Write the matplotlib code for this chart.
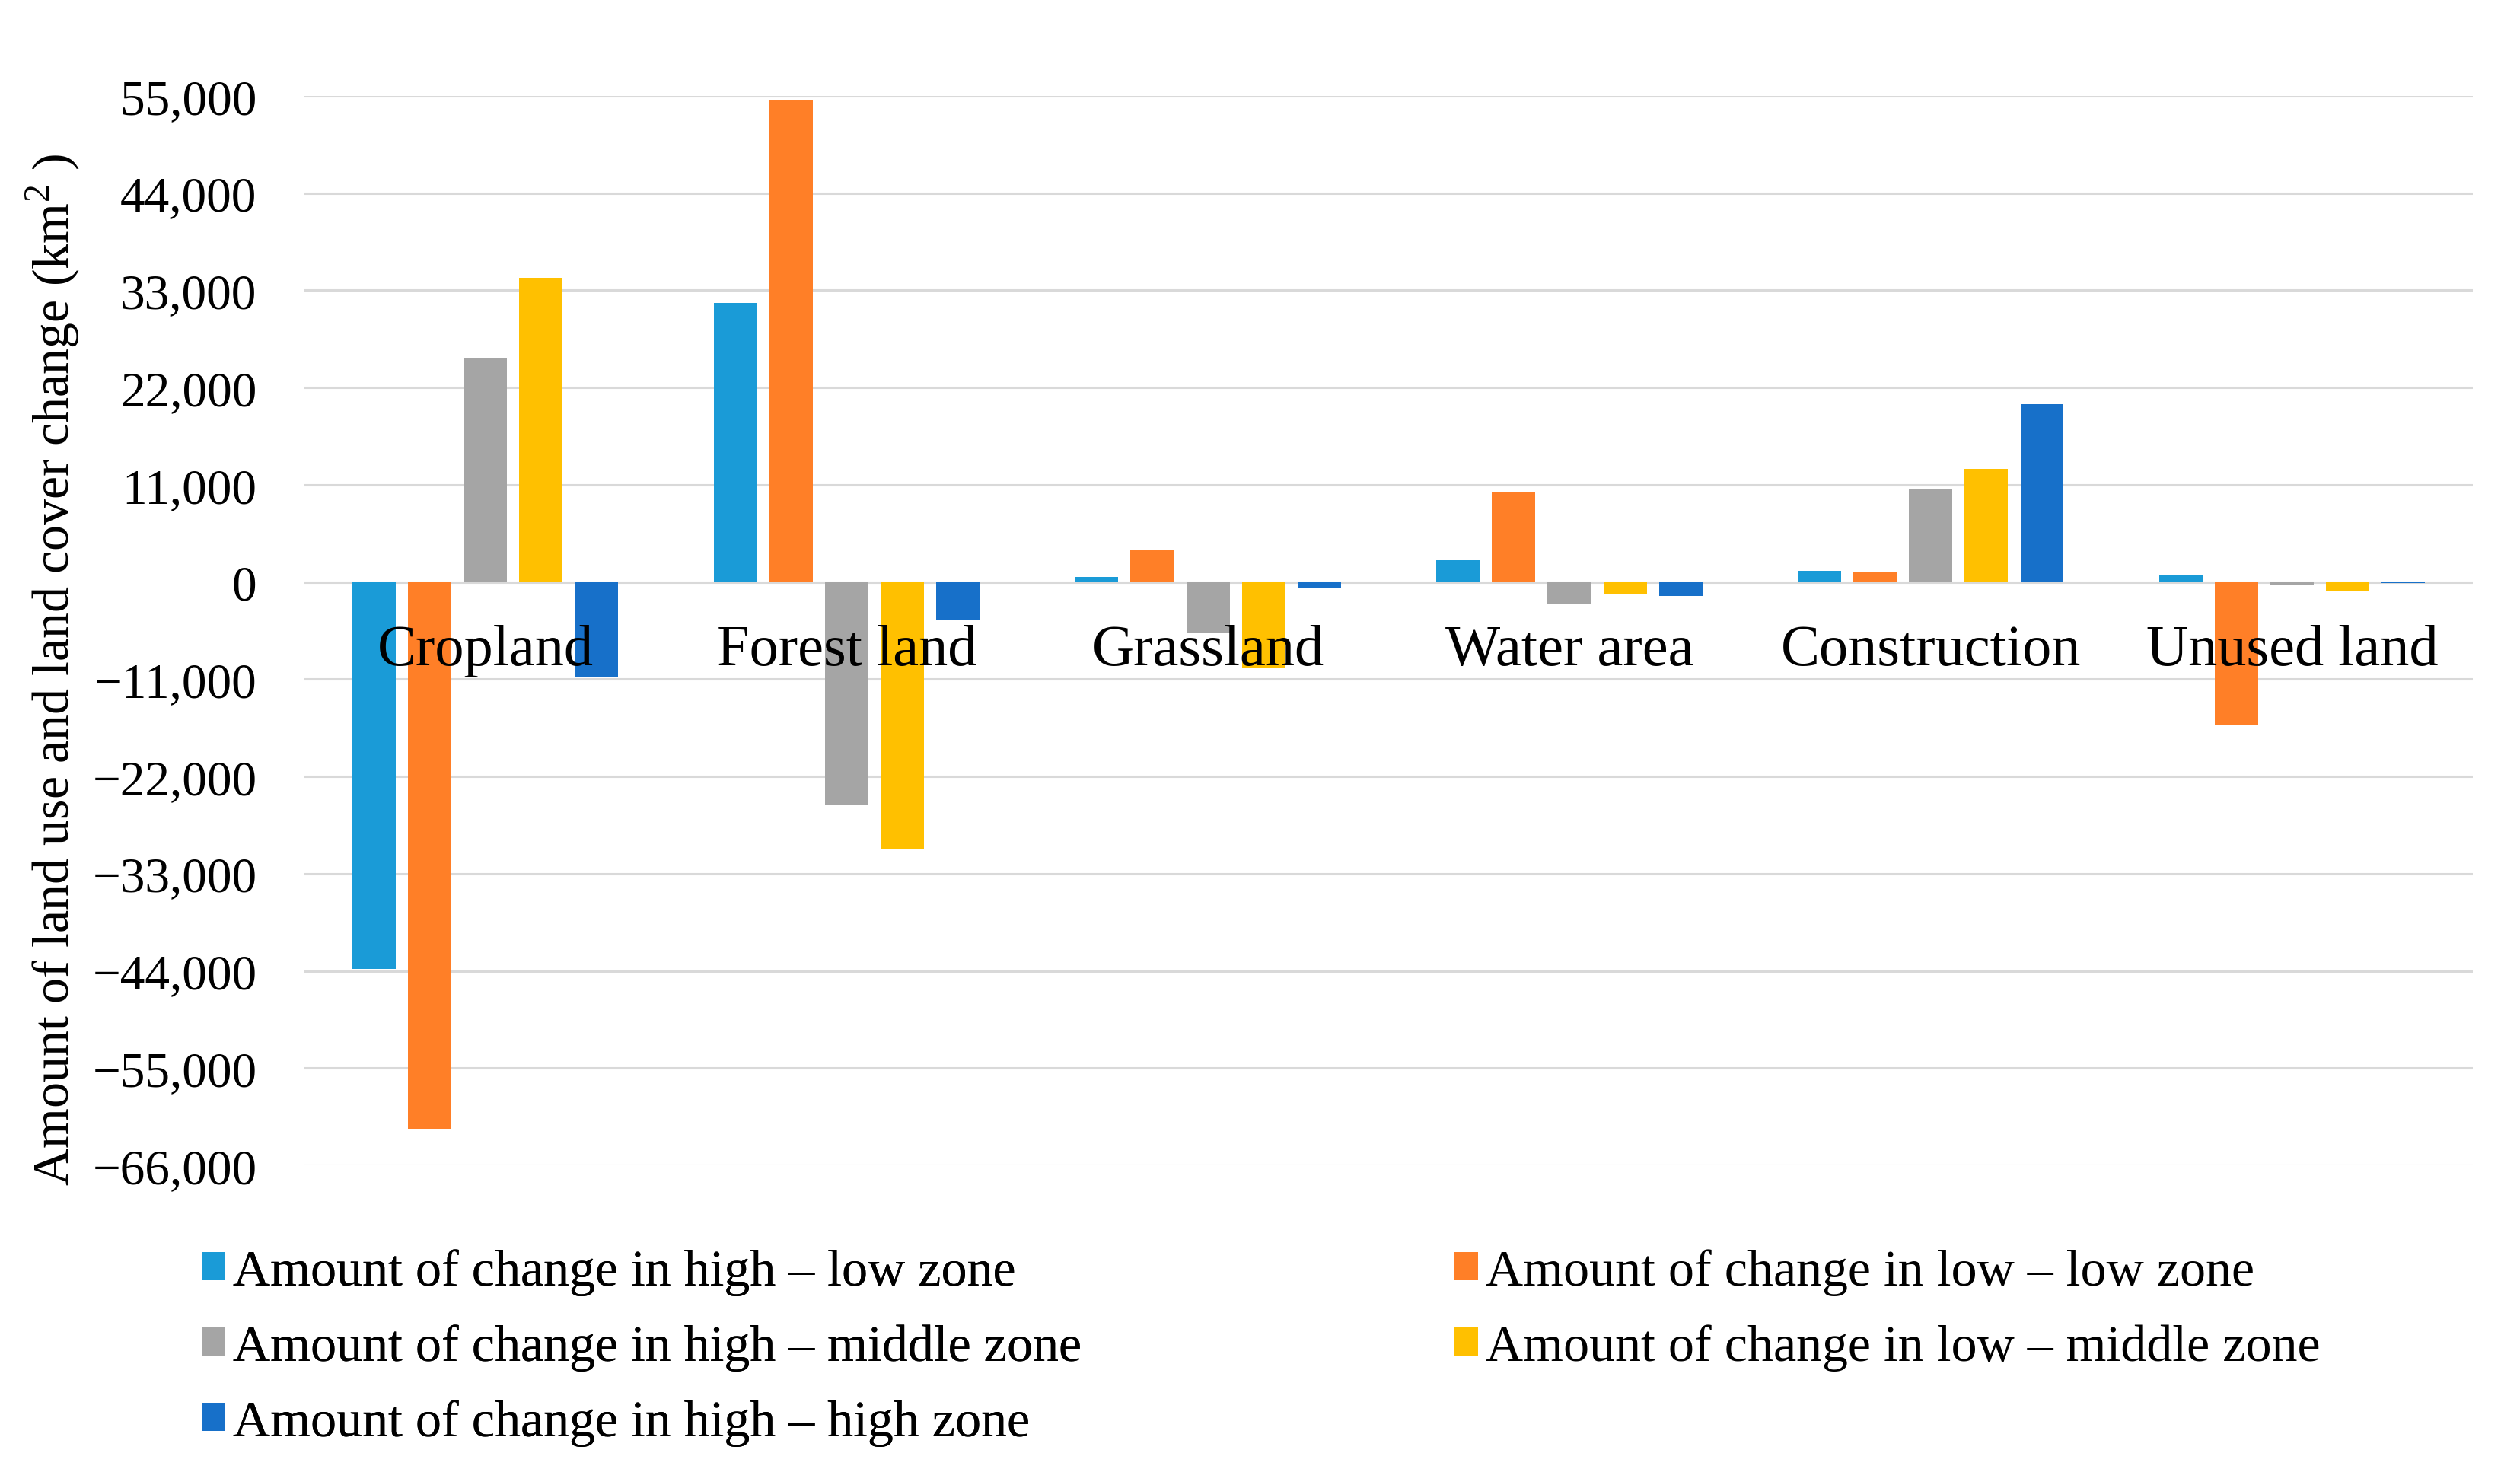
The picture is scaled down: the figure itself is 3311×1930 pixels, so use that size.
import numpy as np
import matplotlib
matplotlib.use('Agg')
import matplotlib.pyplot as plt
from matplotlib.ticker import FuncFormatter, MultipleLocator

plt.rcParams['font.family'] = ['Liberation Serif', 'DejaVu Serif']
plt.rcParams['mathtext.fontset'] = 'custom'
plt.rcParams['mathtext.rm'] = 'Liberation Serif'

categories = ['Cropland', 'Forest land', 'Grassland', 'Water area', 'Construction', 'Unused land']

# change amounts (km2) per zone
high_low = [-43800, 31600, 550, 2500, 1300, 800]
low_low = [-61900, 54500, 3600, 10100, 1150, -16100]
high_middle = [25400, -25300, -5800, -2400, 10600, -350]
low_middle = [34400, -30300, -9700, -1400, 12800, -1000]
high_high = [-10800, -4300, -600, -1600, 20100, -150]

series_names = ['Amount of change in high – low zone',
                'Amount of change in low – low zone',
                'Amount of change in high – middle zone',
                'Amount of change in low – middle zone',
                'Amount of change in high – high zone']
series_colors = ['#1A9BD7', '#FF7F27', '#A5A5A5', '#FFC000', '#1770C9']

fig = plt.figure(figsize=(33.11, 19.31), dpi=100)
ax = fig.add_axes([400/3311, 1-1532/1931, 2849/3311, 1405/1931])

x = np.arange(len(categories))
bw = 0.12
pitch = 0.154
handles = []
for i, vals in enumerate([high_low, low_low, high_middle, low_middle, high_high]):
    b = ax.bar(x + (i-2)*pitch, vals, width=bw, color=series_colors[i], label=series_names[i], zorder=2)
    handles.append(b)

ax.set_xlim(-0.5, len(categories)-0.5)
ax.set_ylim(-66000, 55000)
ax.yaxis.set_major_locator(MultipleLocator(11000))

def fmt(v, pos):
    s = '{:,.0f}'.format(abs(v))
    return ('\u2212' + s) if v < 0 else s
ax.yaxis.set_major_formatter(FuncFormatter(fmt))

ax.grid(axis='y', color='#d9d9d9', linewidth=2.2, zorder=0)
ax.set_axisbelow(True)
for sp in ax.spines.values():
    sp.set_visible(False)

ax.set_xticks(x)
ax.set_xticklabels([])
ax.tick_params(axis='x', length=0)
ax.tick_params(axis='y', length=0, pad=45, labelsize=47)

# category names sit just under the zero line, on top of the bars
for i, cat in enumerate(categories):
    ax.annotate(cat, xy=(x[i], 0), xytext=(0, -78), textcoords='offset points',
                ha='center', va='baseline', fontsize=55, zorder=5, annotation_clip=False)

fig.text(70/3311, 1-880/1931, 'Amount of land use and land cover change (km$^{2}$ )',
         rotation=90, ha='center', va='center', fontsize=49)

leg_kw = dict(loc='upper left', frameon=False, fontsize=49, handlelength=0.45, handleheight=0.45,
              handletextpad=0.15, labelspacing=0.55, borderpad=0, borderaxespad=0)
leg1 = fig.legend([handles[0], handles[2], handles[4]],
                  [series_names[0], series_names[2], series_names[4]],
                  bbox_to_anchor=(265/3311, 1-1641/1931), **leg_kw)
leg2 = fig.legend([handles[1], handles[3]],
                  [series_names[1], series_names[3]],
                  bbox_to_anchor=(1911/3311, 1-1641/1931), **leg_kw)
fig.add_artist(leg1)

fig.savefig('out.png', dpi=100)
